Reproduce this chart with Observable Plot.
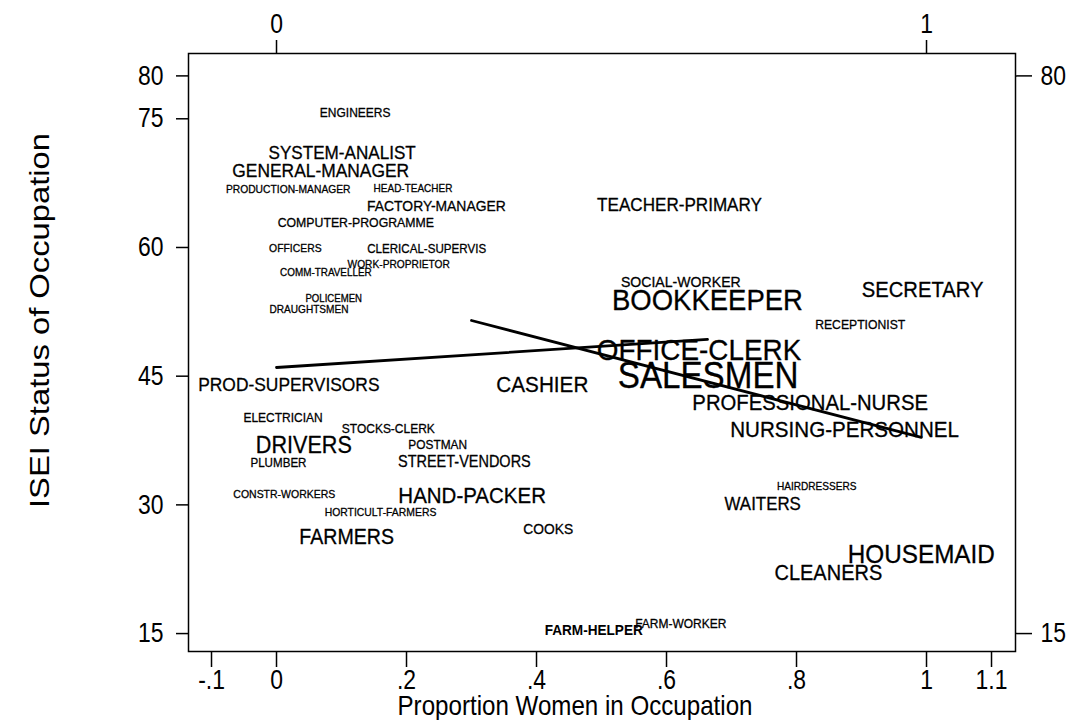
<!DOCTYPE html>
<html><head><meta charset="utf-8">
<script src="https://cdn.jsdelivr.net/npm/d3@7"></script>
<script src="https://cdn.jsdelivr.net/npm/@observablehq/plot@0.6"></script>
<style>
html,body{margin:0;padding:0;background:#fff;}
</style></head><body><div id="chart"></div>
<script>
// ---- data ----
const occupations = ["ENGINEERS","SYSTEM-ANALIST","GENERAL-MANAGER","PRODUCTION-MANAGER","HEAD-TEACHER","FACTORY-MANAGER","COMPUTER-PROGRAMME","OFFICERS","CLERICAL-SUPERVIS","WORK-PROPRIETOR","COMM-TRAVELLER","POLICEMEN","DRAUGHTSMEN","TEACHER-PRIMARY","SOCIAL-WORKER","BOOKKEEPER","SECRETARY","RECEPTIONIST","OFFICE-CLERK","SALESMEN","CASHIER","PROD-SUPERVISORS","PROFESSIONAL-NURSE","NURSING-PERSONNEL","ELECTRICIAN","STOCKS-CLERK","DRIVERS","POSTMAN","PLUMBER","STREET-VENDORS","CONSTR-WORKERS","HAND-PACKER","HORTICULT-FARMERS","FARMERS","COOKS","HAIRDRESSERS","WAITERS","HOUSEMAID","CLEANERS","FARM-HELPER","FARM-WORKER"];
const propWomen = [0.121,0.101,0.068,0.018,0.210,0.246,0.122,0.029,0.231,0.188,0.076,0.088,0.050,0.620,0.622,0.663,0.994,0.898,0.650,0.664,0.409,0.019,0.821,0.874,0.010,0.172,0.042,0.248,0.003,0.289,0.012,0.301,0.160,0.108,0.418,0.831,0.748,0.992,0.849,0.488,0.622];
const isei = [75.73,71.01,68.97,66.82,66.82,64.84,62.91,59.88,59.88,58.02,57.03,54.0,52.83,64.90,55.92,53.82,55.05,50.97,48.05,44.97,43.97,44.03,41.93,38.79,40.13,38.90,36.92,37.04,34.94,35.0,31.21,31.04,29.11,26.20,27.13,32.14,30.05,24.16,22.06,15.36,16.12];
// relative label weight (drives label font size)
const weight = [12,17.1,17.4,10.3,10,13.9,12.3,10.4,11.6,10.2,9.9,9.6,10.1,17.1,14.1,27.5,20.2,12.2,27.9,33.2,20.7,17.4,20.3,20.6,12,12,21.6,11.9,11.6,14.5,10.5,20.5,10.4,19.6,13.8,10.1,16.9,24.3,20,13.6,12];

// fitted lines (start/end)
const lineIds = ["low", "high"];
const lineX0 = [0.0, 0.300];
const lineY0 = [46.01, 51.49];
const lineX1 = [0.663, 0.992];
const lineY1 = [49.28, 37.86];

const yTicksLeft = [15, 30, 45, 60, 75, 80];
const yTicksRight = [15, 80];
const xTicksBottom = [-0.1, 0, 0.2, 0.4, 0.6, 0.8, 1, 1.1];
const xTicksTop = [0, 1];
const xTitle = "Proportion Women in Occupation";
const yTitle = "ISEI Status of Occupation";

// ---- build ----
const K = 0.85;        // glyph horizontal compression (axes)
const K_LABEL = 0.92;  // glyph horizontal compression (occupation labels)
const Y_TITLE_K = 1.17;
const rows = occupations.map((o, i) => ({occupation: o, x: propWomen[i], y: isei[i], w: weight[i]}));
const occSet = new Set(occupations);
const lineRows = lineIds.flatMap((id, i) => [
  {id, x: lineX0[i], y: lineY0[i]},
  {id, x: lineX1[i], y: lineY1[i]}
]);
const fmtX = d => d === 0 ? "0" : String(d).replace("0.", ".");
const tickFS = 27;

const svg = Plot.plot({
  width: 1076,
  height: 720,
  marginLeft: 188,
  marginRight: 61,
  marginTop: 53,
  marginBottom: 69,
  style: {fontFamily: "'Liberation Sans', Arial, Helvetica, sans-serif", background: "#fff", color: "#000"},
  x: {domain: [-0.1354, 1.1369]},
  y: {domain: [12.91, 82.61]},
  marks: [
    Plot.frame({stroke: "#000", strokeWidth: 1.5}),
    Plot.axisY({ticks: yTicksLeft, anchor: "left", tickSize: 12, tickPadding: 13, fontSize: tickFS, label: null, tickFormat: d => String(d), strokeWidth: 1.5}),
    Plot.axisY({ticks: yTicksRight, anchor: "right", tickSize: 16, tickPadding: 9, fontSize: tickFS, label: null, tickFormat: d => String(d), strokeWidth: 1.5}),
    Plot.axisX({ticks: xTicksBottom, anchor: "bottom", tickSize: 16, tickPadding: 2, fontSize: tickFS, label: null, tickFormat: fmtX, strokeWidth: 1.5}),
    Plot.axisX({ticks: xTicksTop, anchor: "top", tickSize: 14, tickPadding: 7, fontSize: tickFS, label: null, tickFormat: fmtX, strokeWidth: 1.5}),
    Plot.line(lineRows, {x: "x", y: "y", z: "id", stroke: "#000", strokeWidth: 2.8}),
    Plot.text(rows.filter(d => d.occupation !== "FARM-HELPER"), {x: "x", y: "y", text: "occupation", fontSize: d => d.w / K_LABEL, fill: "#000", stroke: "#000", strokeWidth: 0.3}),
    Plot.text(rows.filter(d => d.occupation === "FARM-HELPER"), {x: "x", y: "y", text: "occupation", fontSize: d => d.w / K_LABEL, fontWeight: "bold", fill: "#000"}),
    Plot.text([xTitle], {frameAnchor: "bottom", textAnchor: "middle", lineAnchor: "middle", dx: -27, dy: 54, text: d => d, fontSize: 28.4, fill: "#000"}),
    Plot.text([yTitle], {frameAnchor: "left", textAnchor: "middle", lineAnchor: "middle", rotate: -90, dx: -148, dy: -32, text: d => d, fontSize: 28, fill: "#000"})
  ]
});

// compress glyphs horizontally around each text's anchor
svg.querySelectorAll("text").forEach(t => {
  const s = t.textContent;
  const k = s === yTitle ? Y_TITLE_K : occSet.has(s) ? K_LABEL : K;
  const tr = t.getAttribute("transform");
  if (tr) {
    t.setAttribute("transform", tr + ` scale(${k},1)`);
  } else {
    const x = +(t.getAttribute("x") || 0), y = +(t.getAttribute("y") || 0);
    t.removeAttribute("x"); t.removeAttribute("y");
    t.setAttribute("transform", `translate(${x},${y}) scale(${k},1)`);
  }
});
document.getElementById("chart").appendChild(svg);
</script>
</body></html>
